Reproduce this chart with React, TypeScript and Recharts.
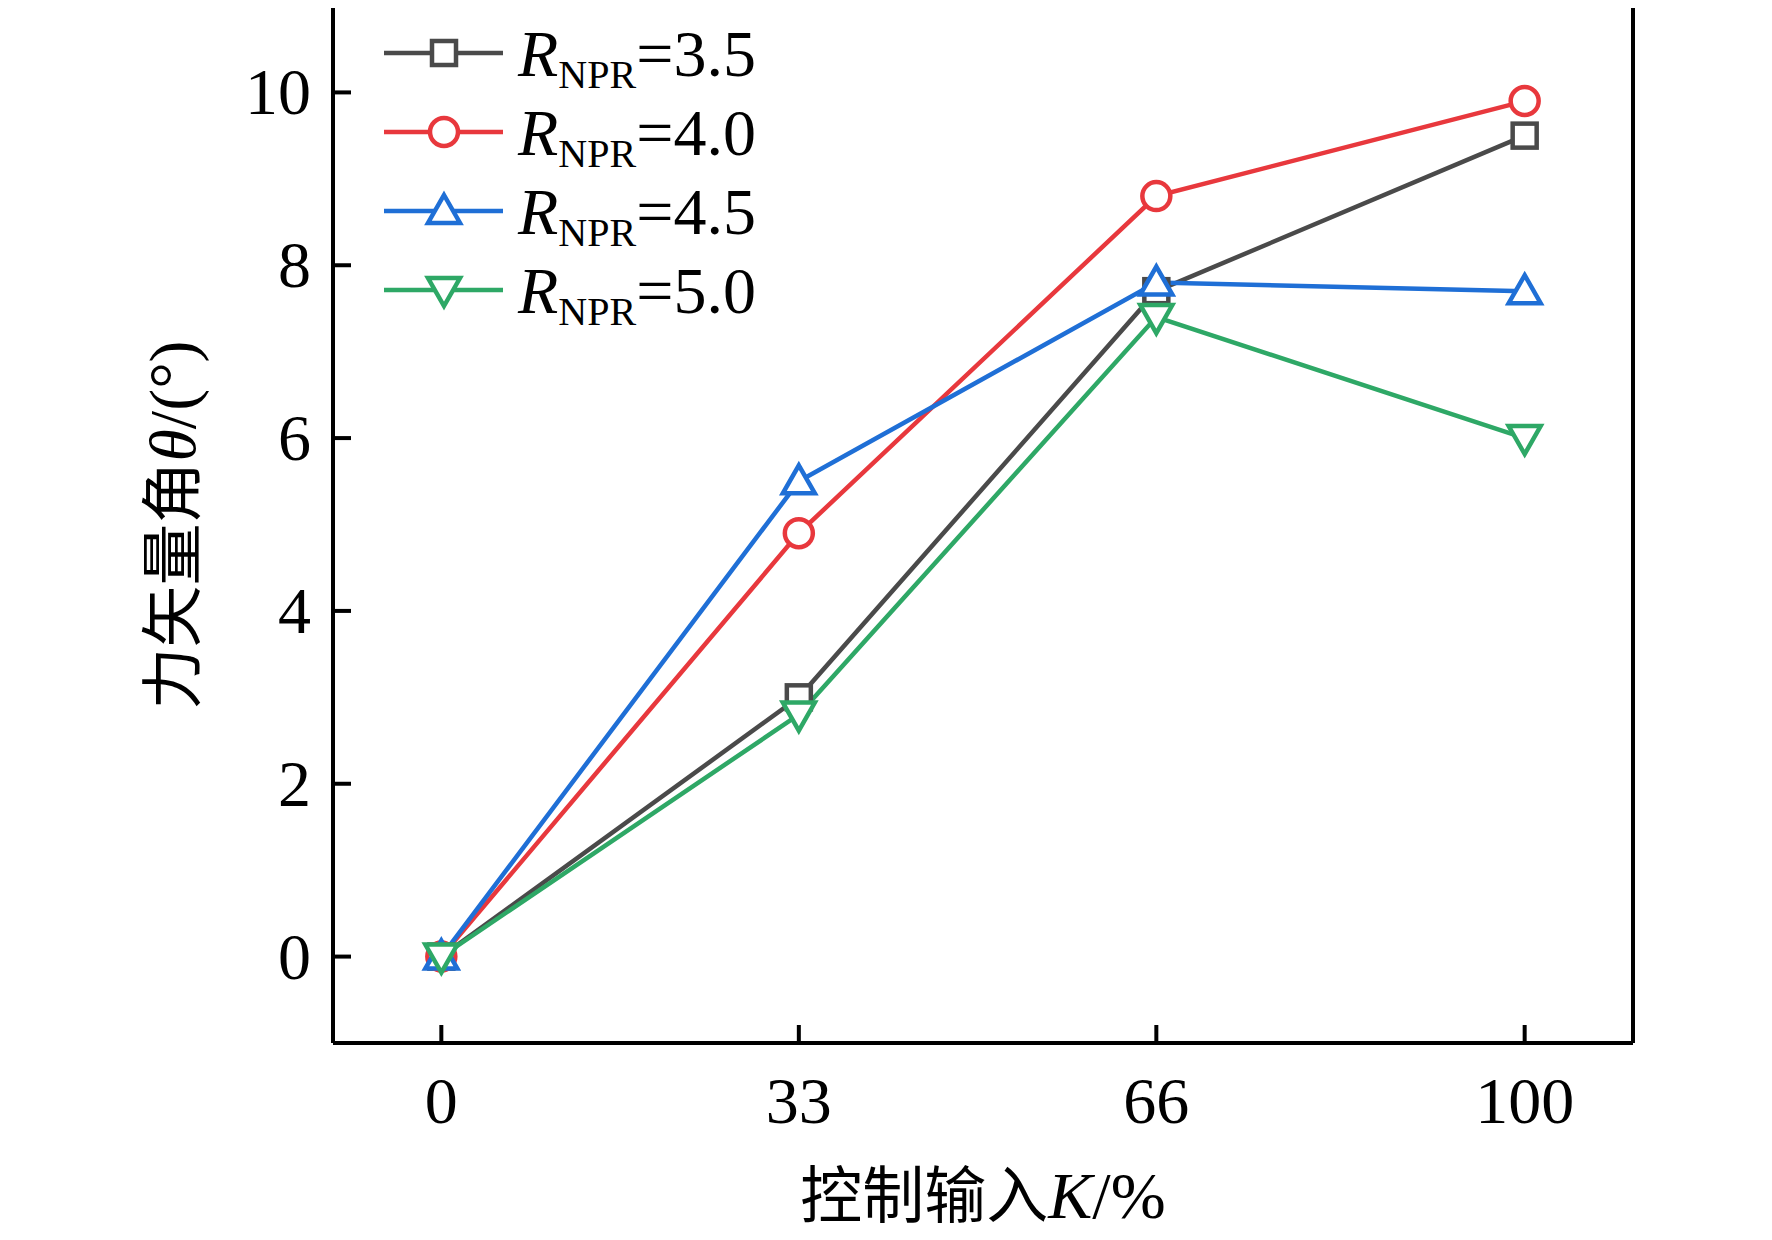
import React from "react";
import { LineChart, Line, XAxis, YAxis } from "recharts";

const kValues = [0, 33, 66, 100];
const npr35 = [0, 3.0, 7.7, 9.5];
const npr40 = [0, 4.9, 8.8, 9.9];
const npr45 = [0, 5.5, 7.8, 7.7];
const npr50 = [0, 2.8, 7.4, 6.0];
const xTicks = [0, 33, 66, 100];
const yTicks = [0, 2, 4, 6, 8, 10];

const data = kValues.map((k, i) => ({ k, a: npr35[i], b: npr40[i], c: npr45[i], d: npr50[i] }));

const FONT = "'Liberation Serif', 'Times New Roman', serif";
const CJK = "'Noto Sans CJK SC', sans-serif";

const series = [
  { key: "a", label: "3.5", color: "#4a4a4a", shape: "square" },
  { key: "b", label: "4.0", color: "#e8383d", shape: "circle" },
  { key: "c", label: "4.5", color: "#1f6fd6", shape: "up" },
  { key: "d", label: "5.0", color: "#2ea866", shape: "down" },
];

const Marker = ({ cx, cy, shape, color }: any) => {
  const common = { fill: "#fff", stroke: color, strokeWidth: 4.5 };
  if (shape === "square") return <rect x={cx - 12} y={cy - 12} width={24} height={24} {...common} />;
  if (shape === "circle") return <circle cx={cx} cy={cy} r={14} {...common} />;
  if (shape === "up")
    return <polygon points={`${cx},${cy - 16} ${cx + 16},${cy + 12} ${cx - 16},${cy + 12}`} {...common} />;
  return <polygon points={`${cx},${cy + 16} ${cx + 16},${cy - 12} ${cx - 16},${cy - 12}`} {...common} />;
};

const XTick = ({ x, y, payload }: any) => (
  <g>
    <line x1={x} y1={y} x2={x} y2={y - 18} stroke="#000" strokeWidth={4} />
    <text x={x} y={y + 80} textAnchor="middle" fontFamily={FONT} fontSize={66} fill="#000">
      {payload.value}
    </text>
  </g>
);

const YTick = ({ x, y, payload }: any) => (
  <g>
    <line x1={x} y1={y} x2={x + 18} y2={y} stroke="#000" strokeWidth={4} />
    <text x={x - 22} y={y + 22} textAnchor="end" fontFamily={FONT} fontSize={66} fill="#000">
      {payload.value}
    </text>
  </g>
);

export default function App() {
  return (
    <div style={{ position: "relative", width: 1772, height: 1240, margin: -8, background: "#fff" }}>
      <LineChart width={1772} height={1240} data={data} margin={{ top: 6, right: 139, left: 0, bottom: 0 }}>
        <XAxis
          dataKey="k"
          type="number"
          domain={[-10, 110]}
          ticks={xTicks}
          height={197}
          tickSize={0}
          tickMargin={0}
          tickLine={false}
          tick={<XTick />}
          axisLine={{ stroke: "#000", strokeWidth: 4 }}
        />
        <YAxis
          type="number"
          domain={[-1, 11]}
          ticks={yTicks}
          width={333}
          tickSize={0}
          tickMargin={0}
          tickLine={false}
          tick={<YTick />}
          axisLine={{ stroke: "#000", strokeWidth: 4 }}
        />
        {series.map((s) => (
          <Line
            key={s.key}
            dataKey={s.key}
            stroke={s.color}
            strokeWidth={4.5}
            isAnimationActive={false}
            dot={(p: any) => <Marker key={`${s.key}-${p.index}`} cx={p.cx} cy={p.cy} shape={s.shape} color={s.color} />}
          />
        ))}
      </LineChart>
      <svg style={{ position: "absolute", left: 0, top: 0 }} width={1772} height={1240}>
        {/* frame: top and right sides */}
        <polyline points="333,6 1633,6 1633,1043" fill="none" stroke="#000" strokeWidth={4} />
        {series.map((s, i) => {
          const y = 53 + i * 79;
          return (
            <g key={s.key}>
              <line x1={384} y1={y} x2={503} y2={y} stroke={s.color} strokeWidth={4.5} />
              <Marker cx={444} cy={y} shape={s.shape} color={s.color} />
              <text x={518} y={y + 23} fontFamily={FONT} fontSize={66} fill="#000">
                <tspan fontStyle="italic">R</tspan>
                <tspan fontSize={40} dy={12}>NPR</tspan>
                <tspan dy={-12}>={s.label}</tspan>
              </text>
            </g>
          );
        })}
        <text x={983} y={1218} textAnchor="middle" fontSize={62} fill="#000">
          <tspan fontFamily={CJK}>控制输入</tspan>
          <tspan fontFamily={FONT} fontStyle="italic" fontSize={66}>K</tspan>
          <tspan fontFamily={FONT} fontSize={66}>/%</tspan>
        </text>
        <text transform="translate(195,525) rotate(-90)" textAnchor="middle" fontSize={62} fill="#000">
          <tspan fontFamily={CJK}>力矢量角</tspan>
          <tspan fontFamily={FONT} fontStyle="italic" fontSize={66}>θ</tspan>
          <tspan fontFamily={FONT} fontSize={66}>/(°)</tspan>
        </text>
      </svg>
    </div>
  );
}
